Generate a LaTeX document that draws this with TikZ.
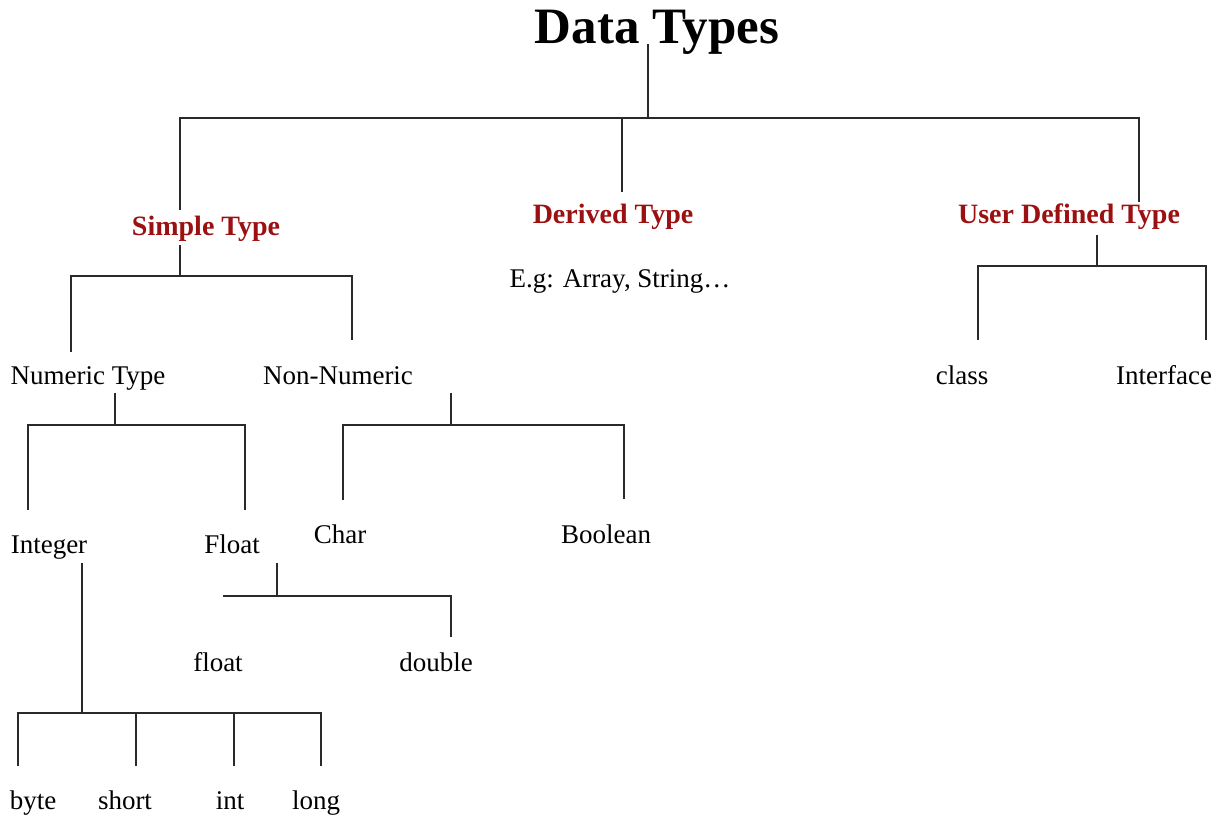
\documentclass[tikz,border=0pt]{standalone}
\usepackage{fontspec}
\setmainfont{Liberation Serif}
\definecolor{headred}{HTML}{9B1010}
\definecolor{linegray}{HTML}{2A2A2A}
\tikzset{
  plain/.style={inner sep=0pt, anchor=base, font=\fontsize{27}{30}\selectfont, text=black},
  head/.style={inner sep=0pt, anchor=base, font=\fontsize{28}{32}\selectfont\bfseries, text=headred},
  titlebox/.style={inner sep=0pt, anchor=base, font=\fontsize{51}{56}\selectfont\bfseries, text=black},
  branch/.style={draw=linegray, line width=1.8pt, line cap=butt, line join=miter}
}
\begin{document}
\begin{tikzpicture}[x=1pt,y=-1pt]
\useasboundingbox (0,0) rectangle (1225,819);

% ---- labels (placed on their baselines) ----
\node[titlebox] (title) at (657,43) {Data Types};
\node[head] (simple)  at (206,235) {Simple Type};
\node[head] (derived) at (613,223) {Derived Type};
\node[head] (udt)     at (1069,223) {User Defined Type};
\node[plain] (eg)     at (620,287) {E.g: Array, String\ldots};

\node[plain] (numeric)    at (88,384)  {Numeric Type};
\node[plain] (nonnumeric) at (338,384) {Non-Numeric};
\node[plain] (class)      at (962,384) {class};
\node[plain] (interface)  at (1164,384) {Interface};

\node[plain] (integer) at (49,553)  {Integer};
\node[plain] (floatT)  at (232,553) {Float};
\node[plain] (char)    at (340,543) {Char};
\node[plain] (boolean) at (606,543) {Boolean};

\node[plain] (floatp) at (218,671) {float};
\node[plain] (double) at (436,671) {double};

\node[plain] (byte)  at (33,809)  {byte};
\node[plain] (short) at (125,809) {short};
\node[plain] (int)   at (230,809) {int};
\node[plain] (long)  at (316,809) {long};

% ---- junction points ----
\coordinate (tFoot) at (648,44);   \coordinate (b0) at (648,118);
\coordinate (sTop)  at (180,210);  \coordinate (dTop) at (622,192);
\coordinate (uTop)  at (1139,202);

\coordinate (sFoot) at (180,245);  \coordinate (b1) at (180,276);
\coordinate (nTop)  at (71,352);   \coordinate (nnTop) at (352,340);

\coordinate (nFoot) at (115,393);  \coordinate (b2) at (115,425);
\coordinate (iTop)  at (28,510);   \coordinate (fTop) at (245,510);

\coordinate (nnFoot) at (451,393); \coordinate (b3) at (451,425);
\coordinate (cTop)   at (343,500); \coordinate (boTop) at (624,499);

\coordinate (fFoot) at (277,563);  \coordinate (b4) at (277,596);
\coordinate (flEnd) at (223,596);  \coordinate (dbTop) at (451,637);

\coordinate (iFoot) at (82,563);   \coordinate (b5) at (82,713);
\coordinate (byTop) at (18,766);   \coordinate (shTop) at (136,766);
\coordinate (inTop) at (234,766);  \coordinate (loTop) at (321,766);

\coordinate (uFoot) at (1097,235); \coordinate (b6) at (1097,266);
\coordinate (clTop) at (978,340);  \coordinate (ifTop) at (1206,340);

% ---- branches ----
% Data Types
\draw[branch] (tFoot) -- (b0);
\draw[branch] (sTop) -- (sTop |- b0) -- (uTop |- b0) -- (uTop);
\draw[branch] (dTop |- b0) -- (dTop);

% Simple Type
\draw[branch] (sFoot) -- (b1);
\draw[branch] (nTop) -- (nTop |- b1) -- (nnTop |- b1) -- (nnTop);

% Numeric Type
\draw[branch] (nFoot) -- (b2);
\draw[branch] (iTop) -- (iTop |- b2) -- (fTop |- b2) -- (fTop);

% Non-Numeric
\draw[branch] (nnFoot) -- (b3);
\draw[branch] (cTop) -- (cTop |- b3) -- (boTop |- b3) -- (boTop);

% Float
\draw[branch] (fFoot) -- (b4);
\draw[branch] (flEnd) -- (dbTop |- b4) -- (dbTop);

% Integer
\draw[branch] (iFoot) -- (b5);
\draw[branch] (byTop) -- (byTop |- b5) -- (loTop |- b5) -- (loTop);
\draw[branch] (shTop |- b5) -- (shTop);
\draw[branch] (inTop |- b5) -- (inTop);

% User Defined Type
\draw[branch] (uFoot) -- (b6);
\draw[branch] (clTop) -- (clTop |- b6) -- (ifTop |- b6) -- (ifTop);
\end{tikzpicture}
\end{document}
